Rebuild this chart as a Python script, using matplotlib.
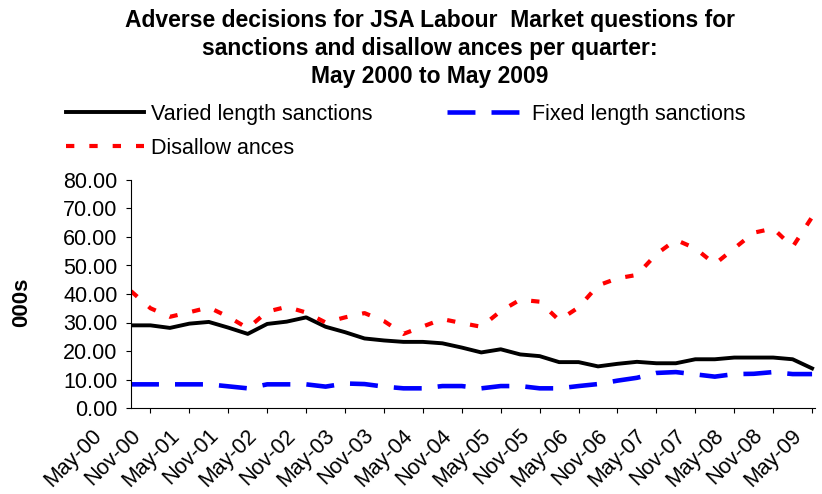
import numpy as np
import matplotlib
matplotlib.use("Agg")
from matplotlib import pyplot as plt
from matplotlib.transforms import blended_transform_factory

plt.rcParams['font.family'] = ['Liberation Sans', 'DejaVu Sans']

# quarterly values, thousands
varied = [29.0, 29.0, 28.1, 29.6, 30.2, 28.2, 26.0, 29.5, 30.3, 31.8,
          28.5, 26.6, 24.4, 23.7, 23.2, 23.2, 22.7, 21.2, 19.5, 20.6,
          18.8, 18.2, 16.1, 16.1, 14.6, 15.5, 16.2, 15.7, 15.7, 17.1,
          17.1, 17.7, 17.7, 17.7, 17.1, 13.9]
fixed = [8.3, 8.3, 8.3, 8.3, 8.3, 7.6, 6.9, 8.3, 8.3, 8.3,
         7.5, 8.6, 8.4, 7.5, 6.9, 6.9, 7.7, 7.7, 6.9, 7.7,
         7.7, 6.9, 6.9, 7.7, 8.4, 9.6, 10.6, 12.3, 12.6, 11.8,
         11.0, 11.9, 12.0, 12.6, 11.9, 11.9]
disallow = [41.0, 35.0, 32.0, 33.6, 35.3, 32.0, 28.0, 33.8, 35.5, 33.5,
            30.0, 31.8, 33.3, 30.5, 26.0, 28.6, 31.2, 29.8, 28.5, 34.0,
            38.0, 37.3, 30.8, 35.3, 43.0, 45.5, 46.7, 54.0, 59.0, 56.0,
            50.5, 56.0, 61.5, 63.0, 56.5, 67.0]
tick_labels = ['May-00', 'Nov-00', 'May-01', 'Nov-01', 'May-02', 'Nov-02',
               'May-03', 'Nov-03', 'May-04', 'Nov-04', 'May-05', 'Nov-05',
               'May-06', 'Nov-06', 'May-07', 'Nov-07', 'May-08', 'Nov-08',
               'May-09']
title_lines = ['Adverse decisions for JSA Labour  Market questions for',
               'sanctions and disallow ances per quarter:',
               'May 2000 to May 2009']

W, H = 822, 494
fig = plt.figure(figsize=(W / 100, H / 100), dpi=100)
ax = fig.add_axes([131 / W, 1 - 408 / H, (815 - 131) / W, (408 - 180) / H])

x = np.arange(len(varied))
h1, = ax.plot(x, varied, color='black', lw=2.8, label='Varied length sanctions')
h2, = ax.plot(x, fixed, color='#0000FF', lw=3.3, ls=(0, (6.1, 3.5)),
              label='Fixed length sanctions')
h3, = ax.plot(x, disallow, color='#FF0000', lw=3.0, ls=(0, (2.0, 3.6)),
              label='Disallow ances')

ax.set_xlim(0, 35.15)
ax.set_ylim(0, 80)
ax.set_yticks(np.arange(0, 81, 10))
ax.set_yticklabels(['%.2f' % v for v in np.arange(0, 81, 10)], fontsize=15.5)
ax.set_xticks(np.arange(1, 36, 2))
ax.set_xticklabels([])
ax.tick_params(axis='both', direction='out', length=3.6, width=0.8, color='black')
ax.tick_params(axis='y', pad=6)
for s in ['top', 'right']:
    ax.spines[s].set_visible(False)
for s in ['left', 'bottom']:
    ax.spines[s].set_linewidth(0.8)

trans = blended_transform_factory(ax.transData, ax.transAxes)
for k, lab in enumerate(tick_labels):
    ax.text(-1.3 + 2 * k, -0.075, lab, rotation=45, ha='right', va='top',
            fontsize=15.5, transform=trans, clip_on=False)

for yy, line in zip([20, 48, 76], title_lines):
    fig.text(430 / W, 1 - yy / H, line, ha='center', va='center',
             fontsize=16.5, fontweight='bold')
fig.text(22 / W, 1 - 302 / H, '000s', rotation=90, ha='center', va='center',
         fontsize=16, fontweight='bold')

ax.legend(handles=[h1, h3, h2], ncol=2, loc='upper left',
          bbox_to_anchor=(66 / W, 1 - 104 / H), bbox_transform=fig.transFigure,
          frameon=False, borderpad=0, borderaxespad=0, handlelength=3.6,
          handletextpad=0.33, columnspacing=3.5, labelspacing=0.6,
          fontsize=15.5)

fig.savefig('out.png', dpi=100)
